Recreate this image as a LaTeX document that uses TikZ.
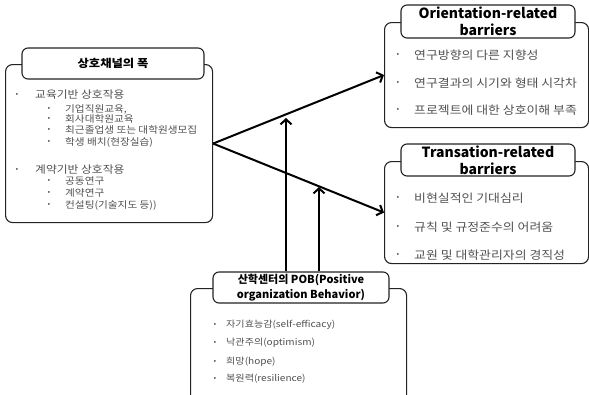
\documentclass[tikz,border=0pt]{standalone}
\usepackage{fontspec}
\setmainfont{Noto Sans CJK KR}[FakeStretch=1.12]
\newfontfamily\titlefont{Noto Sans CJK KR}
\usetikzlibrary{arrows.meta,positioning}
\definecolor{boxline}{RGB}{35,35,35}
\definecolor{itemgray}{RGB}{80,80,80}

\begin{document}
\begin{tikzpicture}[
  x=1pt, y=-1pt,
  every node/.style={inner sep=0pt},
  outerbox/.style={draw=boxline,line width=1.1pt,rounded corners=7pt,anchor=north west},
  tabbox/.style={draw=boxline,line width=1.1pt,rounded corners=6pt,fill=white,align=center},
  bul/.style={text=itemgray,font=\fontsize{7}{7}\selectfont},
  itm/.style={anchor=west,text=itemgray,font=\fontsize{11.5}{12}\selectfont},
  link/.style={-{Straight Barb[length=5pt,width=11pt]},line width=2pt},
]
  \useasboundingbox (0,0) rectangle (589,394);
  \clip (0,0) rectangle (589,394);

  % Outer boxes
  \node[outerbox,minimum width=207pt,minimum height=158pt] (chbox) at (5,64) {};
  \node[outerbox,minimum width=204pt,minimum height=105pt] (orbox) at (384,22) {};
  \node[outerbox,minimum width=204pt,minimum height=102pt] (trbox) at (384,161) {};
  \node[outerbox,minimum width=216pt,minimum height=130pt] (pobbox) at (190,288) {};

  % Title tabs
  \node[tabbox,minimum width=182pt,minimum height=31pt,font=\bfseries\fontsize{11}{13}\selectfont]
    (chtitle) at (113,63.5) {상호채널의 폭};
  \node[tabbox,minimum width=174pt,minimum height=33pt,font=\titlefont\bfseries\fontsize{14}{17}\selectfont]
    (ortitle) at (488,21.5) {Orientation-related\\barriers};
  \node[tabbox,minimum width=174pt,minimum height=32pt,font=\titlefont\bfseries\fontsize{14}{17}\selectfont]
    (trtitle) at (488,160) {Transation-related\\barriers};
  \node[tabbox,minimum width=176pt,minimum height=31pt,font=\titlefont\bfseries\fontsize{11}{15}\selectfont]
    (pobtitle) at (301,287.5) {산학센터의 POB(Positive\\organization Behavior)};

  % Interaction channels
  \node[bul] (chb1) at (17,95) {•};
  \node[itm,font=\fontsize{10.5}{11}\selectfont] (chi1) at (35,95) {교육기반 상호작용};
  \foreach \y/\t [count=\i] in {109/{기업직원교육,},119/회사대학원교육,130/최근졸업생 또는 대학원생모집,142/학생 배치(현장실습)}{
    \node[bul] (eb\i) at (49,\y) {•};
    \node[itm,font=\fontsize{9.5}{10}\selectfont] (ei\i) at (65,\y) {\t};
  }
  \node[bul] (chb2) at (17,170) {•};
  \node[itm,font=\fontsize{10.5}{11}\selectfont] (chi2) at (35,170) {계약기반 상호작용};
  \foreach \y/\t [count=\i] in {181/공동연구,193/계약연구,205/컨설팅(기술지도 등))}{
    \node[bul] (cb\i) at (49,\y) {•};
    \node[itm,font=\fontsize{9.5}{10}\selectfont] (ci\i) at (65,\y) {\t};
  }

  % Barriers
  \foreach \y/\t [count=\i] in {55/연구방향의 다른 지향성,83/연구결과의 시기와 형태 시각차,110/프로젝트에 대한 상호이해 부족}{
    \node[bul] (orb\i) at (398,\y) {•};
    \node[itm] (ori\i) at (414,\y) {\t};
  }
  \foreach \y/\t [count=\i] in {198/비현실적인 기대심리,227/규칙 및 규정준수의 어려움,255/교원 및 대학관리자의 경직성}{
    \node[bul] (trb\i) at (398,\y) {•};
    \node[itm] (tri\i) at (414,\y) {\t};
  }

  % POB
  \foreach \y/\t [count=\i] in {325/자기효능감(self-efficacy),343/낙관주의(optimism),362/희망(hope),379/복원력(resilience)}{
    \node[bul] (pb\i) at (215,\y) {•};
    \node[itm,font=\fontsize{9}{10}\selectfont] (pi\i) at (226,\y) {\t};
  }

  % Arrows
  \draw[link] (chbox.east) -- (orbox.west);
  \draw[link] (chbox.east) -- (trbox.west);
  \coordinate (up1) at (286,118);
  \coordinate (up2) at (319,187);
  \draw[link] (pobtitle.north -| up1) -- (up1);
  \draw[link] (pobtitle.north -| up2) -- (up2);
\end{tikzpicture}
\end{document}
